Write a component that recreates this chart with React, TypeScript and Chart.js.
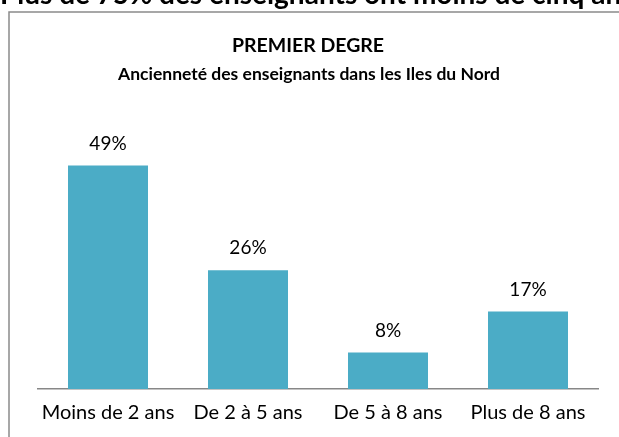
import React, { useEffect, useRef } from "react";
import { Chart, registerables } from "chart.js";

Chart.register(...registerables);

const pageHeading = "Plus de 75% des enseignants ont moins de cinq ans";
const titleLines = ["PREMIER DEGRE", "Ancienneté des enseignants dans les Iles du Nord"];
const categories = ["Moins de 2 ans", "De 2 à 5 ans", "De 5 à 8 ans", "Plus de 8 ans"];
const shares = [49, 26, 8, 17];
const yMax = 55;

const FONT = "Lato, 'Open Sans', sans-serif";
const BAR = "#4BACC6";

const decorPlugin = {
  id: "decor",
  beforeDraw(chart: any) {
    const ctx = chart.ctx;
    ctx.save();
    ctx.fillStyle = "#ffffff";
    ctx.fillRect(0, 0, chart.width, chart.height);
    // clipped heading above the box
    ctx.fillStyle = "#000";
    ctx.font = `bold 28px ${FONT}`;
    ctx.textAlign = "left";
    ctx.textBaseline = "alphabetic";
    ctx.fillText(pageHeading, 0, 4);
    // box border
    ctx.strokeStyle = "#8a8a8a";
    ctx.lineWidth = 1.5;
    ctx.strokeRect(9, 12, chart.width + 20, chart.height + 20);
    // titles
    ctx.textAlign = "center";
    ctx.textBaseline = "middle";
    ctx.font = `bold 19.5px ${FONT}`;
    ctx.fillText(titleLines[0], 308, 46);
    ctx.font = `bold 17.5px ${FONT}`;
    ctx.fillText(titleLines[1], 309, 74);
    ctx.restore();
  },
  afterDatasetsDraw(chart: any) {
    const ctx = chart.ctx;
    const meta = chart.getDatasetMeta(0);
    ctx.save();
    ctx.fillStyle = "#000";
    ctx.font = `19px ${FONT}`;
    ctx.textAlign = "center";
    ctx.textBaseline = "middle";
    meta.data.forEach((bar: any, i: number) => {
      ctx.fillText(`${shares[i]}%`, bar.x, bar.y - 22);
    });
    ctx.restore();
  },
};

export default function App() {
  const ref = useRef<HTMLCanvasElement | null>(null);
  useEffect(() => {
    if (!ref.current) return;
    const chart = new Chart(ref.current, {
      type: "bar",
      data: {
        labels: categories,
        datasets: [
          {
            data: shares,
            backgroundColor: BAR,
            borderWidth: 0,
            barPercentage: 80 / 140,
            categoryPercentage: 1,
          },
        ],
      },
      options: {
        animation: false,
        responsive: false,
        maintainAspectRatio: false,
        layout: { padding: { left: 38, right: 21, top: 138, bottom: 0 } },
        plugins: {
          legend: { display: false },
          title: { display: false },
          tooltip: { enabled: false },
        },
        scales: {
          x: {
            grid: { display: false, drawTicks: false },
            border: { display: true, color: "#878787", width: 1.5 },
            ticks: { color: "#000", font: { family: FONT, size: 20 }, padding: 12, maxRotation: 0 },
          },
          y: {
            display: false,
            min: 0,
            max: yMax,
          },
        },
      },
      plugins: [decorPlugin],
    });
    return () => chart.destroy();
  }, []);
  return (
    <div style={{ position: "fixed", left: 0, top: 0, width: 619, height: 437, background: "#fff" }}>
      <canvas ref={ref} width={619} height={437} style={{ display: "block" }} />
    </div>
  );
}
